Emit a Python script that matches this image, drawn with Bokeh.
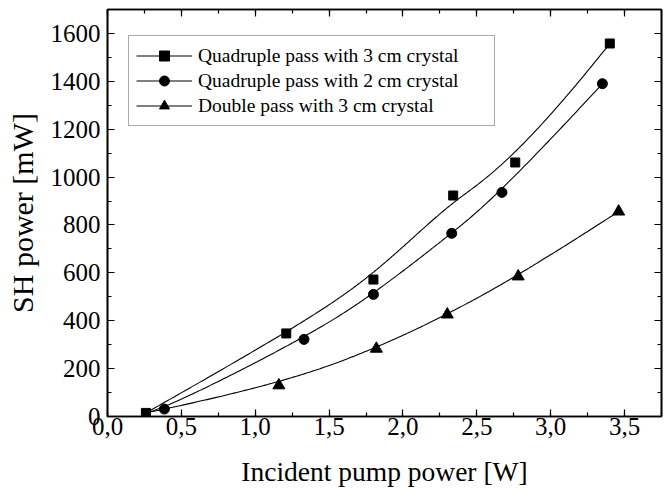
import numpy as np
from bokeh.plotting import figure
from bokeh.models import FixedTicker, LinearAxis, Legend, LegendItem, Range1d
from bokeh.embed import file_html
from bokeh.resources import INLINE

# Measured second-harmonic power versus incident pump power
onset_pump = 0.26   # W, where all three curves start
onset_sh = 15       # mW

quad3_pump = [0.26, 1.21, 1.80, 2.34, 2.76, 3.40]
quad3_sh = [15, 347, 572, 923, 1061, 1558]

quad2_pump = [0.385, 1.33, 1.80, 2.33, 2.67, 3.35]
quad2_sh = [31, 322, 510, 765, 936, 1390]

double3_pump = [1.16, 1.82, 2.30, 2.78, 3.46]
double3_sh = [130, 283, 426, 585, 856]

series_labels = ["Quadruple pass with 3 cm crystal",
                 "Quadruple pass with 2 cm crystal",
                 "Double pass with 3 cm crystal"]

x_ticks = [0.0, 0.5, 1.0, 1.5, 2.0, 2.5, 3.0, 3.5]
x_tick_labels = ["0,0", "0,5", "1,0", "1,5", "2,0", "2,5", "3,0", "3,5"]
x_minor = [0.25 * i for i in range(16)]
y_ticks = [0, 200, 400, 600, 800, 1000, 1200, 1400, 1600]
y_minor = [100 * i for i in range(18)]

FONT = "Liberation Serif"


def bspline(cx, cy, degree=3, num=300):
    """Clamped uniform B-spline using the points as control polygon."""
    cx = np.asarray(cx, float)
    cy = np.asarray(cy, float)
    n = len(cx)
    k = min(degree, n - 1)
    inner = np.linspace(0.0, 1.0, n - k + 1)
    knots = np.concatenate([np.zeros(k), inner, np.ones(k)])
    t = np.linspace(0.0, 1.0, num)
    N = np.zeros((num, len(knots) - 1))
    for i in range(len(knots) - 1):
        N[:, i] = (t >= knots[i]) & (t < knots[i + 1])
    N[t >= 1.0, n - 1] = 1.0
    for d in range(1, k + 1):
        M = np.zeros((num, len(knots) - 1 - d))
        for i in range(len(knots) - 1 - d):
            den1 = knots[i + d] - knots[i]
            den2 = knots[i + d + 1] - knots[i + 1]
            if den1 > 0:
                M[:, i] += (t - knots[i]) / den1 * N[:, i]
            if den2 > 0:
                M[:, i] += (knots[i + d + 1] - t) / den2 * N[:, i + 1]
        N = M
    return N @ cx, N @ cy


p = figure(width=672, height=489,
           x_range=Range1d(0, 3.75), y_range=Range1d(0, 1700),
           output_backend="svg", toolbar_location=None,
           min_border_left=107, min_border_right=11,
           min_border_top=9, min_border_bottom=73)

p.xgrid.visible = False
p.ygrid.visible = False
p.background_fill_color = "white"
p.border_fill_color = "white"
p.outline_line_color = "black"
p.outline_line_width = 1.6

xt = FixedTicker(ticks=x_ticks, minor_ticks=x_minor)
yt = FixedTicker(ticks=y_ticks, minor_ticks=y_minor)


def style_axis(ax, show_labels):
    ax.axis_line_color = "black"
    ax.axis_line_width = 1.6
    ax.major_tick_in = 7
    ax.major_tick_out = 0
    ax.minor_tick_in = 4
    ax.minor_tick_out = 0
    ax.major_tick_line_color = "black"
    ax.minor_tick_line_color = "black"
    ax.major_tick_line_width = 1.2
    ax.minor_tick_line_width = 1.2
    ax.major_label_text_font = FONT
    ax.major_label_text_color = "black"
    ax.axis_label_text_font = FONT
    ax.axis_label_text_font_style = "normal"
    ax.axis_label_text_color = "black"
    if not show_labels:
        # mirror axis: ticks only
        ax.major_label_text_color = None
        ax.major_label_text_font_size = "0px"
        ax.major_label_standoff = 0


xa = p.xaxis[0]
xa.ticker = xt
style_axis(xa, True)
xa.major_label_overrides = {t: s for t, s in zip(x_ticks, x_tick_labels)}
xa.major_label_text_font_size = "25px"
xa.major_label_standoff = 1
xa.axis_label = "Incident pump power [W]"
xa.axis_label_text_font_size = "27.5px"
xa.axis_label_standoff = 18

ya = p.yaxis[0]
ya.ticker = yt
style_axis(ya, True)
ya.major_label_text_font_size = "25px"
ya.major_label_standoff = 7
ya.axis_label = "SH power [mW]"
ya.axis_label_text_font_size = "30px"
ya.axis_label_standoff = 9

top = LinearAxis(ticker=xt)
style_axis(top, False)
p.add_layout(top, "above")
right = LinearAxis(ticker=yt)
style_axis(right, False)
p.add_layout(right, "right")

# Smoothed connecting curves
c1x, c1y = bspline(quad3_pump, quad3_sh)
c2x, c2y = bspline([onset_pump] + quad2_pump, [onset_sh] + quad2_sh)
c3x, c3y = bspline([onset_pump] + double3_pump, [onset_sh] + double3_sh)

l1 = p.line(c1x, c1y, line_color="black", line_width=1.1)
l2 = p.line(c2x, c2y, line_color="black", line_width=1.1)
l3 = p.line(c3x, c3y, line_color="black", line_width=1.1)

s3 = p.scatter(double3_pump, double3_sh, marker="triangle", size=12,
               fill_color="black", line_color="black")
s2 = p.scatter(quad2_pump, quad2_sh, marker="circle", size=10,
               fill_color="black", line_color="black")
s1 = p.scatter(quad3_pump, quad3_sh, marker="square", size=9,
               fill_color="black", line_color="black")

legend = Legend(items=[
    LegendItem(label=series_labels[0], renderers=[l1, s1]),
    LegendItem(label=series_labels[1], renderers=[l2, s2]),
    LegendItem(label=series_labels[2], renderers=[l3, s3]),
])
legend.location = (21, 290)
legend.padding = 7
legend.spacing = 0
legend.glyph_width = 56
legend.glyph_height = 25
legend.label_height = 25
legend.label_width = 289
legend.label_standoff = 6
legend.label_text_font = FONT
legend.label_text_font_size = "19.5px"
legend.label_text_color = "black"
legend.border_line_color = "#555555"
legend.border_line_width = 1.2
legend.background_fill_alpha = 1.0
legend.margin = 0
p.add_layout(legend)

open("out.html", "w").write(file_html(p, INLINE))
